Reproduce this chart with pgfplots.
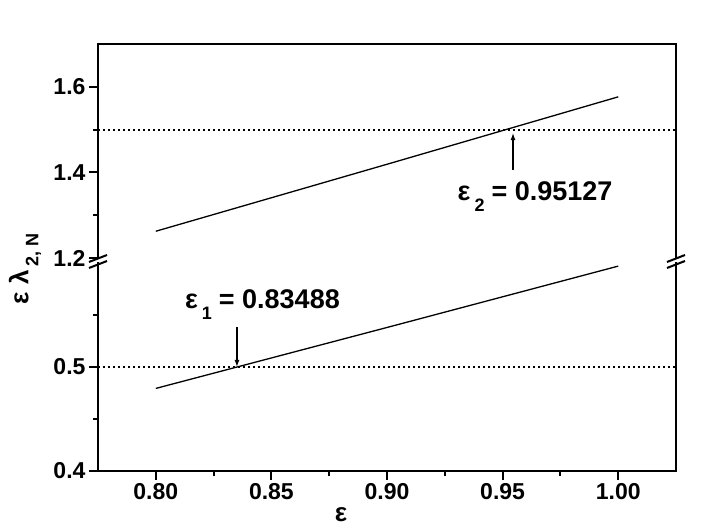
\documentclass[border=0pt]{standalone}
\usepackage{fontspec}
\setmainfont{Liberation Sans}
\usepackage{pgfplots}
\pgfplotsset{compat=1.18}
\usetikzlibrary{arrows.meta}

\newcommand{\fs}[1]{\fontsize{#1}{#1}\selectfont}

\pgfplotsset{
  brk/.style={
    scale only axis, width=578pt,
    xmin=0.775, xmax=1.025,
    axis line style={draw=none},
    tick align=outside,
    major tick length=9pt, minor tick length=5pt,
    every tick/.style={black, line width=2pt},
    tick label style={font=\fs{23}\bfseries},
    /pgf/number format/assume math mode=true,
    clip=false,
  },
}

\begin{document}
\begin{tikzpicture}[x=1pt,y=1pt]
\path (0,0) rectangle (717,527);

% lower part of the broken y axis
\begin{axis}[brk, at={(98pt,56pt)}, anchor=south west, height=208pt,
  ymin=0.4, ymax=0.6,
  axis x line*=bottom, axis y line*=left,
  xtick={0.8,0.85,0.9,0.95,1.0},
  minor xtick={0.825,0.875,0.925,0.975},
  ytick={0.4,0.5}, minor ytick={0.45,0.55},
  xticklabel style={/pgf/number format/fixed, /pgf/number format/fixed zerofill, /pgf/number format/precision=2},
  yticklabel style={/pgf/number format/fixed, /pgf/number format/fixed zerofill, /pgf/number format/precision=1},
]
\addplot[black, line width=1.3pt] coordinates {(0.8,0.4794) (0.9,0.538) (1.0,0.597)};
\addplot[black, line width=2pt, dash pattern=on 2pt off 3pt] coordinates {(0.775,0.5) (1.025,0.5)};
\draw[line width=2.2pt, line cap=rect] (rel axis cs:0,1) -- (rel axis cs:0,0) -- (rel axis cs:1,0) -- (rel axis cs:1,1);
\draw[-{Latex[length=7pt,width=5pt]}, line width=1.2pt] (axis cs:0.8351,0.5385) -- (axis cs:0.8351,0.5);
\node[anchor=base west, font=\fs{27}\bfseries, inner sep=0pt] at (axis cs:0.8126,0.5567)
  {ε\kern4pt\raisebox{-11pt}{\fs{18}1}\kern7pt= 0.83488};
\end{axis}

% upper part
\begin{axis}[brk, at={(98pt,269pt)}, anchor=south west, height=214pt,
  ymin=1.2, ymax=1.7,
  axis x line=none, axis y line*=left,
  ytick={1.2,1.4,1.6}, minor ytick={1.3,1.5},
  yticklabel style={/pgf/number format/fixed, /pgf/number format/fixed zerofill, /pgf/number format/precision=1},
]
\addplot[black, line width=1.3pt] coordinates {(0.8,1.2625) (0.9,1.419) (1.0,1.5765)};
\addplot[black, line width=2pt, dash pattern=on 2pt off 3pt] coordinates {(0.775,1.5) (1.025,1.5)};
\draw[line width=2.2pt, line cap=rect] (rel axis cs:0,0) -- (rel axis cs:0,1) -- (rel axis cs:1,1) -- (rel axis cs:1,0);
\draw[-{Latex[length=7pt,width=5pt]}, line width=1.2pt] (axis cs:0.9545,1.4056) -- (axis cs:0.9545,1.492);
\node[anchor=base west, font=\fs{27}\bfseries, inner sep=0pt] at (axis cs:0.9305,1.3355)
  {ε\kern4pt\raisebox{-11pt}{\fs{18}2}\kern7pt= 0.95127};
\end{axis}

% axis break marks
\foreach \bx in {98,676} {
  \draw[line width=2pt] (\bx-9,265) -- (\bx+9,272);
  \draw[line width=2pt] (\bx-9,259) -- (\bx+9,266);
}

% axis titles
\node[font=\fs{26}\bfseries, inner sep=0pt] at (341,12) {ε};
\node[rotate=90, font=\fs{26}\bfseries] at (25,258)
  {ε\kern8pt λ\kern4pt\raisebox{-10pt}{\fs{18}2, N}};
\end{tikzpicture}
\end{document}
